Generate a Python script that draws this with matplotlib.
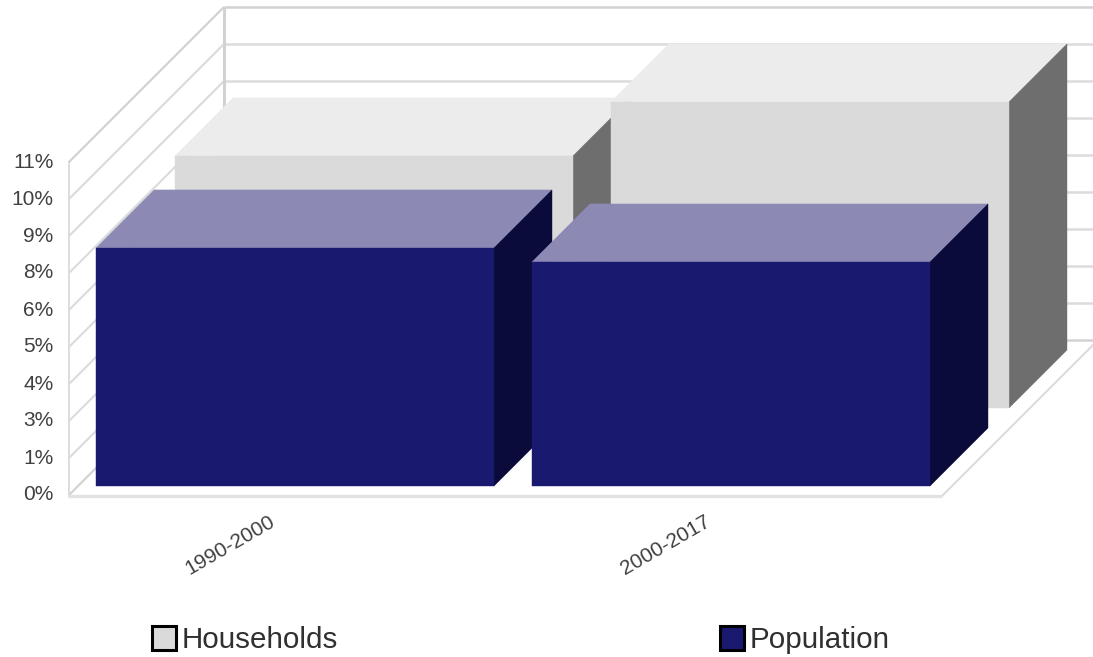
import numpy as np
import matplotlib
matplotlib.use('Agg')
import matplotlib.pyplot as plt
from matplotlib.patches import Polygon, Rectangle
from matplotlib.transforms import ScaledTranslation

plt.rcParams['font.family'] = ['Liberation Sans', 'DejaVu Sans']

# Data
categories = ['1990-2000', '2000-2017']
households = [8.63, 10.48]
population = [8.15, 7.67]
tick_step = 1.2667
n_ticks = 10
names = ['Households', 'Population']

# Scale of the fake 3D box, in pixels
W, H = 1093, 657
LEFT, BASE = 68, 496
PX_PER_CAT = 436.0
PX_PER_PCT = 37.0 / tick_step
WALL_DX, WALL_DY = 156, 156
BAR_DX, BAR_DY = 58, 58
BAR_OFFSET, BAR_W = 28, 398
HH_DX, HH_LIFT = 79, 88
POP_LIFT = 10

GRID = '#dcdcdc'
WALL = '#d2d2d2'
TEXT = '#404040'


def to_x(px):
    return px / PX_PER_CAT


def to_y(px):
    return px / PX_PER_PCT


def box(ax, cat, value, dx0, lift, front, top, side):
    # one bar: front face, top face and right side
    x0 = cat + to_x(BAR_OFFSET + dx0)
    x1 = x0 + to_x(BAR_W)
    y0 = to_y(lift)
    y1 = y0 + value
    dx, dy = to_x(BAR_DX), to_y(BAR_DY)
    ax.add_patch(Polygon([(x0, y1), (x1, y1), (x1 + dx, y1 + dy), (x0 + dx, y1 + dy)],
                         fc=top, ec=top, lw=0.3))
    ax.add_patch(Polygon([(x1, y0), (x1 + dx, y0 + dy), (x1 + dx, y1 + dy), (x1, y1)],
                         fc=side, ec=side, lw=0.3))
    ax.add_patch(Polygon([(x0, y0), (x1, y0), (x1, y1), (x0, y1)],
                         fc=front, ec=front, lw=0.3))


fig = plt.figure(figsize=(W / 100, H / 100), dpi=100)
ax = fig.add_axes([LEFT / W, 0, 1 - LEFT / W, 1])
ax.set_xlim(0, to_x(W - LEFT))
ax.set_ylim(to_y(BASE - H), to_y(BASE))
for s in ax.spines.values():
    s.set_visible(False)

ticks = np.arange(n_ticks) * tick_step
ax.set_xticks([])
ax.set_yticks(ticks)
ax.set_yticklabels(['%d%%' % round(t) for t in ticks], fontsize=15, color=TEXT)
ax.tick_params(axis='y', length=0, pad=10.5)
# labels sit a little above their gridline in the original
shift = ScaledTranslation(0, 3 / 100, fig.dpi_scale_trans)
for label in ax.get_yticklabels():
    label.set_transform(label.get_transform() + shift)

# Walls and grid
wx, wy = to_x(WALL_DX), to_y(WALL_DY)
x_end = len(categories) + to_x(2)
for i, t in enumerate(ticks):
    col = WALL if i == len(ticks) - 1 or i == 0 else GRID
    ax.plot([0, wx], [t, t + wy], color=col, lw=1.6, zorder=1, solid_capstyle='butt')
    ax.plot([wx, to_x(W)], [t + wy, t + wy], color=col, lw=1.8, zorder=1, solid_capstyle='butt')
ax.plot([0, 0], [0, ticks[-1]], color=GRID, lw=2.0, zorder=1, solid_capstyle='butt')
ax.plot([wx, wx], [wy, ticks[-1] + wy], color=WALL, lw=2.2, zorder=1, solid_capstyle='butt')
ax.plot([0, x_end], [0, 0], color='#e2e2e2', lw=2.4, zorder=1, solid_capstyle='butt')
ax.plot([x_end, x_end + wx], [0, wy], color=GRID, lw=1.6, zorder=1, solid_capstyle='butt')

# Bars, back row first
for i, v in enumerate(households):
    box(ax, i, v, HH_DX, HH_LIFT, '#dadada', '#ececec', '#6e6e6e')
for i, v in enumerate(population):
    box(ax, i, v, 0, POP_LIFT, '#191970', '#8c8ab5', '#0b0b3b')

# Category labels
for i, c in enumerate(categories):
    ax.text(i + 0.5 - to_x(56), to_y(BASE - 545), c, rotation=30, ha='center', va='center',
            fontsize=15, color=TEXT, rotation_mode='anchor')

# Legend
colors = ['#dadada', '#191970']
legend_x = [152, 720]
for n, col, lx in zip(names, colors, legend_x):
    ax.add_patch(Rectangle((to_x(lx - LEFT), to_y(BASE - 650)), to_x(24), to_y(24),
                           fc=col, ec='black', lw=2.2))
    ax.text(to_x(lx + 30 - LEFT), to_y(BASE - 640), n, ha='left', va='center',
            fontsize=21.3, color='#303030')

fig.savefig('out.png', dpi=100)
